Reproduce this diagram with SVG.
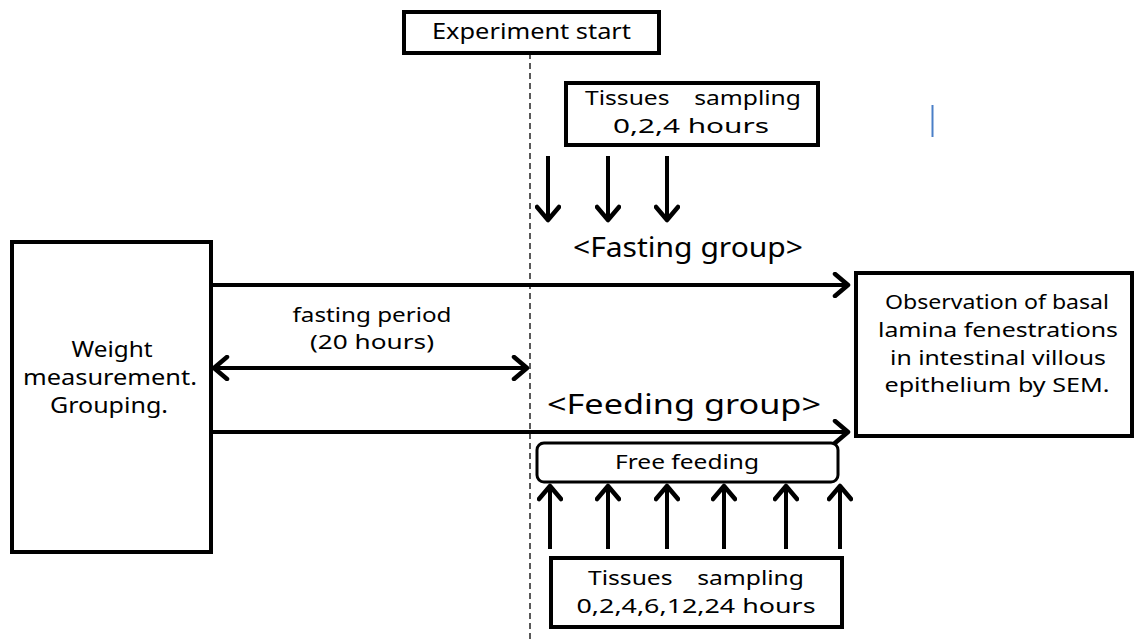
<svg xmlns="http://www.w3.org/2000/svg" width="1135" height="642" viewBox="0 0 1135 642">
  <defs>
    <style>
      .box { fill: #fff; stroke: #000; stroke-width: 4; }
      .thin { fill: #fff; stroke: #000; stroke-width: 3; }
      .conn { fill: none; stroke: #000; stroke-width: 4; }
      .dash { fill: none; stroke: #000; stroke-width: 1.3; stroke-dasharray: 6 4; }
      text { font-family: "Noto Sans", "Liberation Sans", sans-serif; fill: #000; text-anchor: middle; }
      .t20 { font-size: 20px; }
      .t21 { font-size: 21px; }
      .t28 { font-size: 28px; }
    </style>
    <marker id="head" viewBox="0 0 22 26" refX="18" refY="13" markerWidth="22" markerHeight="26" markerUnits="userSpaceOnUse" orient="auto-start-reverse">
      <path d="M5 2 L18 13 L5 24" fill="none" stroke="#000" stroke-width="4.5" stroke-linecap="round" stroke-linejoin="round"/>
    </marker>
  </defs>

  <!-- timeline marker for the start of the experiment -->
  <line class="dash" x1="530" y1="53" x2="530" y2="642"/>

  <g id="experiment-start">
    <rect class="box" x="404" y="12" width="255" height="41"/>
    <text class="t21" x="531.5" y="39" textLength="199" lengthAdjust="spacingAndGlyphs">Experiment start</text>
  </g>

  <g id="sampling-fasting">
    <rect class="box" x="566" y="83" width="252" height="62"/>
    <text class="t20" x="693" y="105" textLength="216" lengthAdjust="spacingAndGlyphs">Tissues　sampling</text>
    <text class="t20" x="691" y="133" textLength="156" lengthAdjust="spacingAndGlyphs">0,2,4 hours</text>
  </g>

  <g id="weight-grouping">
    <rect class="box" x="12" y="242" width="199" height="310"/>
    <text class="t21" x="112" y="357" textLength="81" lengthAdjust="spacingAndGlyphs">Weight</text>
    <text class="t21" x="110" y="385" textLength="174" lengthAdjust="spacingAndGlyphs">measurement.</text>
    <text class="t21" x="109" y="413" textLength="118" lengthAdjust="spacingAndGlyphs">Grouping.</text>
  </g>

  <g id="observation">
    <rect class="box" x="856" y="273" width="276" height="163"/>
    <text class="t20" x="997" y="309" textLength="224" lengthAdjust="spacingAndGlyphs">Observation of basal</text>
    <text class="t20" x="998" y="337" textLength="240" lengthAdjust="spacingAndGlyphs">lamina fenestrations</text>
    <text class="t20" x="998" y="365" textLength="216" lengthAdjust="spacingAndGlyphs">in intestinal villous</text>
    <text class="t20" x="997" y="392" textLength="225" lengthAdjust="spacingAndGlyphs">epithelium by SEM.</text>
  </g>

  <g id="free-feeding">
    <rect class="thin" x="537" y="443" width="301" height="39" rx="7" ry="7"/>
    <text class="t20" x="687" y="469" textLength="144" lengthAdjust="spacingAndGlyphs">Free feeding</text>
  </g>

  <g id="sampling-feeding">
    <rect class="box" x="551" y="558" width="291" height="69"/>
    <text class="t20" x="696" y="585" textLength="216" lengthAdjust="spacingAndGlyphs">Tissues　sampling</text>
    <text class="t20" x="696" y="613" textLength="239" lengthAdjust="spacingAndGlyphs">0,2,4,6,12,24 hours</text>
  </g>

  <g id="labels">
    <text class="t28" x="688" y="257" textLength="230" lengthAdjust="spacingAndGlyphs">&lt;Fasting group&gt;</text>
    <text class="t28" x="684" y="414" textLength="274" lengthAdjust="spacingAndGlyphs">&lt;Feeding group&gt;</text>
    <text class="t20" x="372" y="322" textLength="159" lengthAdjust="spacingAndGlyphs">fasting period</text>
    <text class="t20" x="372" y="349" textLength="124" lengthAdjust="spacingAndGlyphs">(20 hours)</text>
  </g>

  <g id="connectors">
    <!-- group paths to the observation step -->
    <line class="conn" x1="211" y1="285" x2="848" y2="285" marker-end="url(#head)"/>
    <line class="conn" x1="211" y1="432" x2="848" y2="432" marker-end="url(#head)"/>
    <!-- fasting period span -->
    <line class="conn" x1="214" y1="368" x2="527" y2="368" marker-start="url(#head)" marker-end="url(#head)"/>
    <!-- fasting group sampling times -->
    <line class="conn" x1="548" y1="156" x2="548" y2="220" marker-end="url(#head)"/>
    <line class="conn" x1="608" y1="156" x2="608" y2="220" marker-end="url(#head)"/>
    <line class="conn" x1="667" y1="156" x2="667" y2="220" marker-end="url(#head)"/>
    <!-- feeding group sampling times -->
    <line class="conn" x1="550" y1="549" x2="550" y2="486" marker-end="url(#head)"/>
    <line class="conn" x1="608" y1="549" x2="608" y2="486" marker-end="url(#head)"/>
    <line class="conn" x1="667" y1="549" x2="667" y2="486" marker-end="url(#head)"/>
    <line class="conn" x1="724" y1="549" x2="724" y2="486" marker-end="url(#head)"/>
    <line class="conn" x1="786" y1="549" x2="786" y2="486" marker-end="url(#head)"/>
    <line class="conn" x1="840" y1="549" x2="840" y2="486" marker-end="url(#head)"/>
  </g>

  <!-- stray text cursor mark -->
  <line x1="932.5" y1="105" x2="932.5" y2="137" stroke="#4a7fc7" stroke-width="2"/>
</svg>
